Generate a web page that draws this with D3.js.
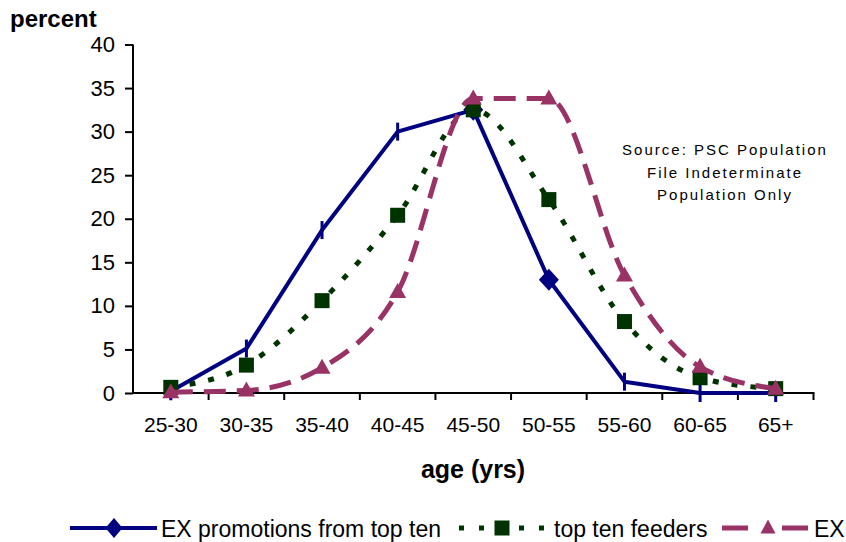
<!DOCTYPE html>
<html>
<head>
<meta charset="utf-8">
<script src="https://cdn.jsdelivr.net/npm/d3@7/dist/d3.min.js"></script>
<style>
  html, body { margin: 0; padding: 0; background: #fff; }
  svg { display: block; font-family: "Liberation Sans", Arial, sans-serif; }
</style>
</head>
<body>
<svg id="chart" width="846" height="542"></svg>
<script>
// Age bands along the x axis
const ageBands = ["25-30", "30-35", "35-40", "40-45", "45-50", "50-55", "55-60", "60-65", "65+"];

// Percent of each group falling in each age band
const promotionsTopTen = [0.2, 5.1, 18.7, 30.0, 32.5, 13.0, 1.3, 0.0, 0.0];
const topTenFeeders    = [0.65, 3.2, 10.6, 20.4, 32.5, 22.2, 8.2, 1.75, 0.5];
const exPopulation     = [0.1, 0.3, 2.9, 11.6, 33.8, 33.8, 13.5, 3.0, 0.5];

// Marker drawn at each point of the promotions series
const promotionsMarkers = ["tick", "tick", "tick", "tick", "diamond", "diamond", "tick", "tick", "tick"];

const yTicks = [0, 5, 10, 15, 20, 25, 30, 35, 40];
const seriesNames = ["EX promotions from top ten", "top ten feeders", "EX"];
const sourceNote = ["Source: PSC Population", "File Indeterminate", "Population Only"];

const BLUE = "#000080", GREEN = "#003300", MAGENTA = "#993366";

const svg = d3.select("#chart");

const x = d3.scaleBand().domain(ageBands).range([133, 813.5]);
const y = d3.scaleLinear().domain([0, 40]).range([393, 44.5]);
const cx = d => x(d) + x.bandwidth() / 2;

// Y axis
const yAxis = svg.append("g")
  .attr("transform", "translate(133,0)")
  .call(d3.axisLeft(y).tickValues(yTicks).tickSize(8).tickPadding(10).tickFormat(d3.format("d")));
yAxis.select(".domain").attr("stroke", "#000").attr("stroke-width", 2).attr("d", `M0,${y(40)}V${y(0)}`);
yAxis.selectAll(".tick line").attr("stroke", "#000").attr("stroke-width", 2);
yAxis.selectAll(".tick text").attr("font-size", 22).attr("fill", "#000")
  .attr("font-family", "'Liberation Sans', Arial, sans-serif");

// X axis: labels centred on each band, ticks on band edges
const xAxis = svg.append("g")
  .attr("transform", `translate(0,${y(0)})`)
  .call(d3.axisBottom(x).tickSize(0).tickPadding(24));
xAxis.select(".domain").remove();
xAxis.selectAll(".tick text").attr("font-size", 21).attr("fill", "#000")
  .attr("font-family", "'Liberation Sans', Arial, sans-serif");

const edges = ageBands.map(d => x(d)).concat([x.range()[1]]);
svg.append("g").selectAll("line").data(edges.slice(1)).join("line")
  .attr("x1", d => d).attr("x2", d => d)
  .attr("y1", y(0)).attr("y2", y(0) + 7)
  .attr("stroke", "#000").attr("stroke-width", 2);
svg.append("line")
  .attr("x1", x.range()[0] - 1).attr("x2", x.range()[1] + 1)
  .attr("y1", y(0)).attr("y2", y(0))
  .attr("stroke", "#000").attr("stroke-width", 2);

// Axis titles
svg.append("text").attr("x", 10).attr("y", 27)
  .attr("font-size", 24).attr("font-weight", "bold").text("percent");
svg.append("text").attr("x", 473).attr("y", 478).attr("text-anchor", "middle")
  .attr("font-size", 25).attr("font-weight", "bold").text("age (yrs)");

// Source note
svg.append("g").selectAll("text").data(sourceNote).join("text")
  .attr("x", 725).attr("y", (d, i) => 155 + i * 22.5)
  .attr("text-anchor", "middle").attr("font-size", 15)
  .attr("letter-spacing", 2).text(d => d);

// Marker painters
function diamond(g, px, py, w, h, color) {
  g.append("path")
    .attr("d", `M${px},${py - h / 2}L${px + w / 2},${py}L${px},${py + h / 2}L${px - w / 2},${py}Z`)
    .attr("fill", color);
}
function square(g, px, py, s, color) {
  g.append("rect").attr("x", px - s / 2).attr("y", py - s / 2)
    .attr("width", s).attr("height", s).attr("fill", color);
}
function triangle(g, px, py, w, h, color) {
  g.append("path")
    .attr("d", `M${px},${py - h * 0.6}L${px + w / 2},${py + h * 0.4}L${px - w / 2},${py + h * 0.4}Z`)
    .attr("fill", color);
}
function tick(g, px, py, color) {
  g.append("line").attr("x1", px).attr("x2", px)
    .attr("y1", py - 9).attr("y2", py + 9)
    .attr("stroke", color).attr("stroke-width", 3);
}

// Series: promotions (straight), feeders and EX (smoothed)
const straight = d3.line().x((d, i) => cx(ageBands[i])).y(d => y(d));
const smooth = d3.line().x((d, i) => cx(ageBands[i])).y(d => y(d)).curve(d3.curveMonotoneX);

const gBlue = svg.append("g");
gBlue.append("path").datum(promotionsTopTen).attr("d", straight)
  .attr("fill", "none").attr("stroke", BLUE).attr("stroke-width", 4).attr("stroke-linejoin", "round");
promotionsTopTen.forEach((v, i) => {
  const px = cx(ageBands[i]), py = y(v);
  if (promotionsMarkers[i] === "diamond") diamond(gBlue, px, py, 20, 22, BLUE);
  else tick(gBlue, px, py, BLUE);
});

const gGreen = svg.append("g");
gGreen.append("path").datum(topTenFeeders).attr("d", smooth)
  .attr("fill", "none").attr("stroke", GREEN).attr("stroke-width", 5)
  .attr("stroke-dasharray", "6,13");
topTenFeeders.forEach((v, i) => square(gGreen, cx(ageBands[i]), y(v), 15, GREEN));

const gMag = svg.append("g");
gMag.append("path").datum(exPopulation).attr("d", smooth)
  .attr("fill", "none").attr("stroke", MAGENTA).attr("stroke-width", 5)
  .attr("stroke-dasharray", "22,11");
exPopulation.forEach((v, i) => triangle(gMag, cx(ageBands[i]), y(v), 17, 15, MAGENTA));

// Legend
const legY = 528;
const legend = svg.append("g");
legend.append("line").attr("x1", 70).attr("x2", 157).attr("y1", legY).attr("y2", legY)
  .attr("stroke", BLUE).attr("stroke-width", 4);
diamond(legend, 114, legY, 17, 20, BLUE);
legend.append("line").attr("x1", 459).attr("x2", 549).attr("y1", legY).attr("y2", legY)
  .attr("stroke", GREEN).attr("stroke-width", 5).attr("stroke-dasharray", "5,15");
square(legend, 502, legY, 15, GREEN);
legend.append("line").attr("x1", 722).attr("x2", 808).attr("y1", legY).attr("y2", legY)
  .attr("stroke", MAGENTA).attr("stroke-width", 5).attr("stroke-dasharray", "26,34,26");
triangle(legend, 768, legY, 15, 14, MAGENTA);

const legX = [161, 554, 814];
legend.selectAll("text.leg").data(seriesNames).join("text")
  .attr("class", "leg")
  .attr("x", (d, i) => legX[i]).attr("y", legY + 9)
  .attr("font-size", 23).text(d => d);
</script>
</body>
</html>
